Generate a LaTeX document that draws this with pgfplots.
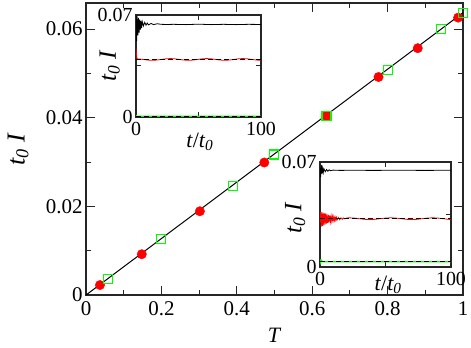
\documentclass[border=0pt]{standalone}
\usepackage{fontspec}
\setmainfont{Liberation Serif}
\usepackage{pgfplots}
\pgfplotsset{compat=1.18}
\begin{document}
\begin{tikzpicture}
\path[use as bounding box] (-86bp,-53bp) rectangle (385bp,295bp);
\begin{axis}[name=main, at={(0,0)}, anchor=south west, scale only axis, width=377bp, height=292bp,
  xmin=0, xmax=1, ymin=0, ymax=0.0659, scaled ticks=false,
  xtick={0,0.2,0.4,0.6,0.8,1}, xticklabels={0,0.2,0.4,0.6,0.8,1},
  minor xtick={0.1,0.3,0.5,0.7,0.9},
  ytick={0,0.02,0.04,0.06}, yticklabels={0,0.02,0.04,0.06},
  minor ytick={0.01,0.03,0.05},
  tick align=inside, major tick length=9bp, minor tick length=5.5bp,
  axis line style={line width=1.1bp, black!85},
  every tick/.style={line width=1bp, black!85},
  ticklabel style={font=\fontsize{21}{22}\selectfont},
  xticklabel style={yshift=-3bp},
  xlabel={\textit{T}}, ylabel={\textit{t\textsubscript{0} I}},
  xlabel style={font=\fontsize{22}{24}\selectfont, at={(axis description cs:0.5,-0.137)}, anchor=center},
  ylabel style={font=\fontsize{26}{28}\selectfont, at={(axis description cs:-0.18,0.5)}, anchor=center},
  clip=false]
\addplot[black, line width=1bp] coordinates {(0,0) (1,0.0637)};
\addplot[only marks, mark=*, mark size=4.7bp, mark options={fill=red, draw=red}] coordinates {
(0.037,0.00225) (0.148,0.0092) (0.302,0.0189) (0.473,0.0299) (0.638,0.0404)
(0.776,0.0492) (0.88,0.0557) (0.987,0.0626) };
\addplot[only marks, mark=square, mark size=4.5bp, mark options={draw=green, line width=1.2bp}] coordinates {
(0.058,0.0036) (0.199,0.01256) (0.389,0.0246) (0.499,0.0317) (0.638,0.0404)
(0.80,0.0507) (0.942,0.060) (1.0,0.0637) };
\end{axis}

% inset 1
\begin{axis}[at={(50bp,178bp)}, anchor=south west,
  scale only axis, width=125bp, height=102bp,
  xmin=0, xmax=100, ymin=0, ymax=0.07, scaled ticks=false,
  xtick={0,50,100}, xticklabels={0,,100},
  ytick={0,0.035,0.07}, yticklabels={0,,0.07},
  tick align=inside, major tick length=5bp,
  axis background/.style={fill=white},
  axis line style={line width=1.1bp, black!85},
  every tick/.style={line width=1bp, black!85},
  ticklabel style={font=\fontsize{20}{21}\selectfont},
  xticklabel style={yshift=-2bp},
  xlabel={\textit{t}/\textit{t\textsubscript{0}}}, ylabel={\textit{t\textsubscript{0} I}},
  xlabel style={font=\fontsize{22}{24}\selectfont, at={(axis description cs:0.51,-0.245)}, anchor=center},
  ylabel style={font=\fontsize{25}{27}\selectfont, at={(axis description cs:-0.21,0.5)}, anchor=center},
  clip=true]
\addplot[black, line width=0.8bp] coordinates {
(0,0.070) (0.5,0.052) (1,0.069) (1.5,0.056) (2,0.068) (2.5,0.058) (3,0.067) (3.5,0.060)
(4,0.066) (4.5,0.061) (5,0.0655) (6,0.0625) (7,0.065) (8,0.063) (9,0.0645) (10,0.0632)
(12,0.0642) (14,0.0634) (17,0.064) (20,0.0636) (25,0.0635) (30,0.0636) (40,0.0634)
(50,0.0637) (60,0.0634) (70,0.0636) (80,0.0634) (90,0.0636) (100,0.0635) };
\addplot[red, line width=0.8bp] coordinates {
(0,0.047) (0.4,0.043) (0.8,0.0400) (1.5,0.0398) (3,0.0398) (5.75,0.0395) (9.4,0.03908)
(13,0.0389) (16.6,0.03908) (20.25,0.0395) (23.9,0.03992) (27.5,0.0401) (31.1,0.03992)
(34.75,0.0395) (38.4,0.03908) (42,0.0389) (45.6,0.03908) (49.25,0.0395) (52.9,0.03992)
(56.5,0.0401) (60.1,0.03992) (63.75,0.0395) (67.4,0.03908) (71,0.0389) (74.6,0.03908)
(78.25,0.0395) (81.9,0.03992) (85.5,0.0401) (89.1,0.03992) (92.75,0.0395) (96.4,0.03908)
(100,0.0389) };
\addplot[green, line width=1.2bp] coordinates {(0,0.0015) (0.5,0.0005) (100,0.0005)};
\addplot[black, line width=0.9bp, dash pattern=on 5bp off 3bp] coordinates {(0,0.0395) (100,0.0395)};
\addplot[black, line width=0.9bp, dash pattern=on 5bp off 3bp] coordinates {(0,0.0005) (100,0.0005)};
\end{axis}

% inset 2
\begin{axis}[at={(234bp,28bp)}, anchor=south west,
  scale only axis, width=131bp, height=105bp,
  xmin=0, xmax=100, ymin=0, ymax=0.07, scaled ticks=false,
  xtick={0,50,100}, xticklabels={0,,100},
  ytick={0,0.035,0.07}, yticklabels={0,,0.07},
  tick align=inside, major tick length=5bp,
  axis background/.style={fill=white},
  axis line style={line width=1.1bp, black!85},
  every tick/.style={line width=1bp, black!85},
  ticklabel style={font=\fontsize{20}{21}\selectfont},
  xticklabel style={yshift=-2bp},
  xlabel={\textit{t}/\textit{t\textsubscript{0}}}, ylabel={\textit{t\textsubscript{0} I}},
  xlabel style={font=\fontsize{22}{24}\selectfont, at={(axis description cs:0.52,-0.17)}, anchor=center},
  ylabel style={font=\fontsize{25}{27}\selectfont, at={(axis description cs:-0.19,0.47)}, anchor=center},
  clip=true]
\addplot[black, line width=0.8bp] coordinates {
(0,0.066) (0.5,0.060) (1,0.068) (1.5,0.062) (2,0.066) (2.5,0.063) (3,0.0655) (4,0.0635)
(5,0.065) (6,0.0638) (7,0.0648) (8,0.0642) (10,0.0646) (15,0.0644) (25,0.0645)
(40,0.0644) (60,0.0645) (80,0.0644) (100,0.0645) };
\addplot[red, line width=0.8bp] coordinates {
(0,0.030) (0.5,0.0365) (1,0.027) (1.5,0.0365) (2,0.0275) (2.5,0.036) (3,0.028) (3.5,0.0358)
(4,0.0285) (4.5,0.0355) (5,0.029) (5.5,0.035) (6,0.0295) (6.5,0.0347) (7,0.0298) (7.5,0.0344)
(8,0.0302) (8.5,0.034) (9,0.0305) (9.5,0.0337) (10,0.0308) (10.5,0.0335) (11,0.031)
(11.5,0.0333) (12,0.0312) (12.5,0.0331) (13,0.0313) (14,0.033) (15,0.0315) (16,0.0328)
(17,0.0318) (18,0.0327) (19,0.032) (20,0.0326) (22,0.0328) (26,0.03262) (30,0.0322)
(34,0.03178) (38,0.0316) (42,0.03178) (46,0.0322) (50,0.03262) (54,0.0328) (58,0.03262)
(62,0.0322) (66,0.03178) (70,0.0316) (74,0.03178) (78,0.0322) (82,0.03262) (86,0.0328)
(90,0.03262) (94,0.0322) (98,0.03178) (100,0.0317) };
\addplot[green, line width=1.2bp] coordinates {(0,0.005) (0.5,0.003) (1,0.0045) (2,0.0035) (100,0.0035)};
\addplot[black, line width=0.9bp, dash pattern=on 5bp off 3bp] coordinates {(0,0.0322) (100,0.0322)};
\addplot[black, line width=0.9bp, dash pattern=on 5bp off 3bp] coordinates {(0,0.0035) (100,0.0035)};
\end{axis}
\end{tikzpicture}
\end{document}
